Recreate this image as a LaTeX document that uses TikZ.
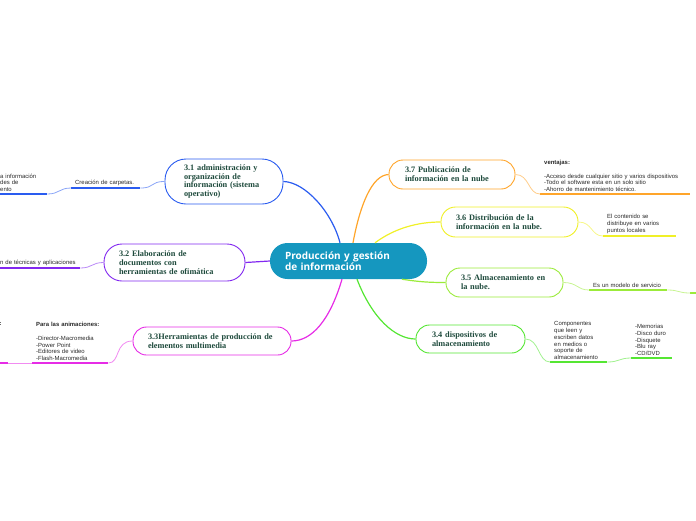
\documentclass[tikz,border=0pt]{standalone}
\usepackage{fontspec}
\setmainfont{Liberation Serif}
\newfontfamily\ctrfont{Open Sans}
\newfontfamily\leaffont{Liberation Sans}
\definecolor{cblue}{RGB}{42,92,240}
\definecolor{cpurple}{RGB}{130,40,240}
\definecolor{cmag}{RGB}{230,44,230}
\definecolor{corange}{RGB}{255,165,42}
\definecolor{cyellow}{RGB}{240,240,40}
\definecolor{clgreen}{RGB}{155,235,58}
\definecolor{cgreen}{RGB}{85,230,51}
\definecolor{ctr}{RGB}{21,151,191}
\definecolor{topictext}{RGB}{30,74,60}
\definecolor{leaftext}{RGB}{40,40,40}
\begin{document}
\begin{tikzpicture}[x=1pt,y=-1pt,
  topic/.style={draw=#1, line width=0.9pt, fill=white, align=left, text=topictext,
    font=\fontsize{8.3}{8.7}\selectfont\bfseries, inner ysep=2pt},
  leaf/.style={anchor=south west, align=left, text=leaftext, inner xsep=4pt, inner ysep=2pt,
    font=\leaffont\fontsize{5.95}{6.8}\selectfont},
  ul/.style={draw=#1, line width=1.8pt},
  mc/.style={draw=#1, line width=1.2pt},
  lc/.style={draw=#1!55, line width=0.8pt}]
\useasboundingbox (0,0) rectangle (696,520);
\clip (0,0) rectangle (696,520);

% central node
\node[fill=ctr, rounded corners=17.5pt, minimum width=157pt, minimum height=36pt,
  text width=127pt, inner xsep=15pt, inner ysep=2pt, align=left, text=white,
  font=\ctrfont\bfseries\fontsize{10}{11}\selectfont] (c) at (348.5,261)
  {Producción y gestión\\de información};

% main topics
\node[topic=cblue, rounded corners=21pt, minimum width=118pt, minimum height=45pt,
  text width=80pt, inner xsep=19pt] (n31) at (224,181.5)
  {3.1 administración~y\\organización de\\información~(sistema\\operativo)};
\node[topic=cpurple, rounded corners=18pt, minimum width=141pt, minimum height=37pt,
  text width=111pt, inner xsep=15pt] (n32) at (174.5,262.5)
  {3.2 Elaboración de\\documentos con\\herramientas de ofimática};
\node[topic=cmag, rounded corners=13.5pt, minimum width=158pt, minimum height=28pt,
  text width=128pt, inner xsep=15pt] (n33) at (212,341)
  {3.3Herramientas~de~producción~de\\elementos multimedia};
\node[topic=corange, rounded corners=14pt, minimum width=126pt, minimum height=29pt,
  text width=94pt, inner xsep=16pt] (n37) at (452,174.5)
  {3.7 Publicación de\\información en la nube};
\node[topic=cyellow, rounded corners=14.5pt, minimum width=137pt, minimum height=30pt,
  text width=107pt, inner xsep=15pt] (n36) at (509.5,222)
  {3.6 Distribución de la\\información en la nube.};
\node[topic=clgreen, rounded corners=14pt, minimum width=117pt, minimum height=29pt,
  text width=87pt, inner xsep=15pt] (n35) at (504.5,282.5)
  {3.5 Almacenamiento~en\\la nube.};
\node[topic=cgreen, rounded corners=13.5pt, minimum width=109pt, minimum height=28pt,
  text width=77pt, inner xsep=16pt] (n34) at (470.5,339)
  {3.4 dispositivos de\\almacenamiento};

% main connectors
\draw[mc=cblue] ([xshift=-8.5pt]c.north) .. controls (332,212) and (305,182) .. (n31.east);
\draw[mc=corange] ([xshift=4.5pt]c.north) .. controls (360,205) and (372,175) .. (n37.west);
\draw[mc=cyellow] ([xshift=26.5pt]c.north) .. controls (395,228) and (418,222) .. (n36.west);
\draw[mc=cpurple] (c.west) -- (n32.east);
\draw[mc=clgreen] ([xshift=53.5pt]c.south) .. controls (420,282) and (430,282.5) .. (n35.west);
\draw[mc=cmag] ([xshift=-6.5pt]c.south) .. controls (330,320) and (312,341) .. (n33.east);
\draw[mc=cgreen] ([xshift=8.5pt]c.south) .. controls (372,318) and (395,339) .. (n34.west);

% left leaves
\node[leaf, text width=61pt] (l31) at (71,188) {Creación de carpetas.};
\draw[ul=cblue] (l31.south west) -- (l31.south east);
\draw[lc=cblue] (n31.west) .. controls +(-15,0) and +(15,0) .. (l31.south east);
\node[leaf, text width=43pt] (l31b) at (-4,194) {a información\\des de\\ento};
\draw[ul=cblue] (l31b.south west) -- (l31b.south east);
\draw[lc=cblue] (l31.south west) .. controls +(-12,0) and +(12,0) .. (l31b.south east);

\node[leaf, text width=76pt] (l32) at (-4,268) {n de técnicas y aplicaciones};
\draw[ul=cpurple] (l32.south west) -- (l32.south east);
\draw[lc=cpurple] (n32.west) .. controls +(-12,0) and +(12,0) .. (l32.south east);

\node[leaf, text width=68pt] (l33) at (32,363)
  {\textbf{Para las animaciones:}\\[6.8pt]-Director-Macromedia\\-Power Point\\-Editores de video\\-Flash-Macromedia};
\draw[ul=cmag] (l33.south west) -- (l33.south east);
\draw[lc=cmag] (n33.west) .. controls +(-18,0) and +(12,0) .. (l33.south east);
\coordinate (l33b) at (8,363);
\draw[ul=cmag] (-2,363) -- (l33b);
\draw[lc=cmag] (l33.south west) -- (l33b);
\node[anchor=west, inner sep=0pt, text=leaftext, font=\leaffont\bfseries\fontsize{5.95}{6.8}\selectfont] (l33bt) at (-0.5,324) {:};

% right leaves
\node[leaf, text width=142pt] (l37) at (540,194)
  {\textbf{ventajas:}\\[6.8pt]-Acceso~desde~cualquier~sitio~y~varios~dispositivos\\-Todo el software esta en un solo sitio\\-Ahorro de mantenimiento técnico.};
\draw[ul=corange] (l37.south west) -- (l37.south east);
\draw[lc=corange] (n37.east) .. controls +(14,0) and +(-12,0) .. (l37.south west);

\node[leaf, text width=65pt] (l36) at (603,236) {El contenido se\\distribuye en varios\\puntos locales};
\draw[ul=cyellow] (l36.south west) -- (l36.south east);
\draw[lc=cyellow] (n36.east) .. controls +(14,0) and +(-12,0) .. (l36.south west);

\node[leaf, text width=70pt] (l35) at (589,290) {Es un modelo de servicio};
\draw[ul=clgreen] (l35.south west) -- (l35.south east);
\draw[lc=clgreen] (n35.east) .. controls +(14,0) and +(-12,0) .. (l35.south west);
\coordinate (l35b) at (690,293);
\draw[ul=clgreen] (l35b) -- (700,293);
\draw[lc=clgreen] (l35.south east) .. controls +(12,0) and +(-12,0) .. (l35b);

\node[leaf, text width=49pt] (l34) at (550,362)
  {Componentes\\que leen y\\escriben datos\\en medios o\\soporte de\\almacenamiento};
\draw[ul=cgreen] (l34.south west) -- (l34.south east);
\draw[lc=cgreen] (n34.east) .. controls +(14,0) and +(-12,0) .. (l34.south west);

\node[leaf, text width=33pt] (l34b) at (631,358) {-Memorias\\-Disco duro\\-Disquete\\-Blu ray\\-CD/DVD};
\draw[ul=cgreen] (l34b.south west) -- (l34b.south east);
\draw[lc=cgreen] (l34.south east) .. controls +(12,0) and +(-12,0) .. (l34b.south west);
\end{tikzpicture}
\end{document}
